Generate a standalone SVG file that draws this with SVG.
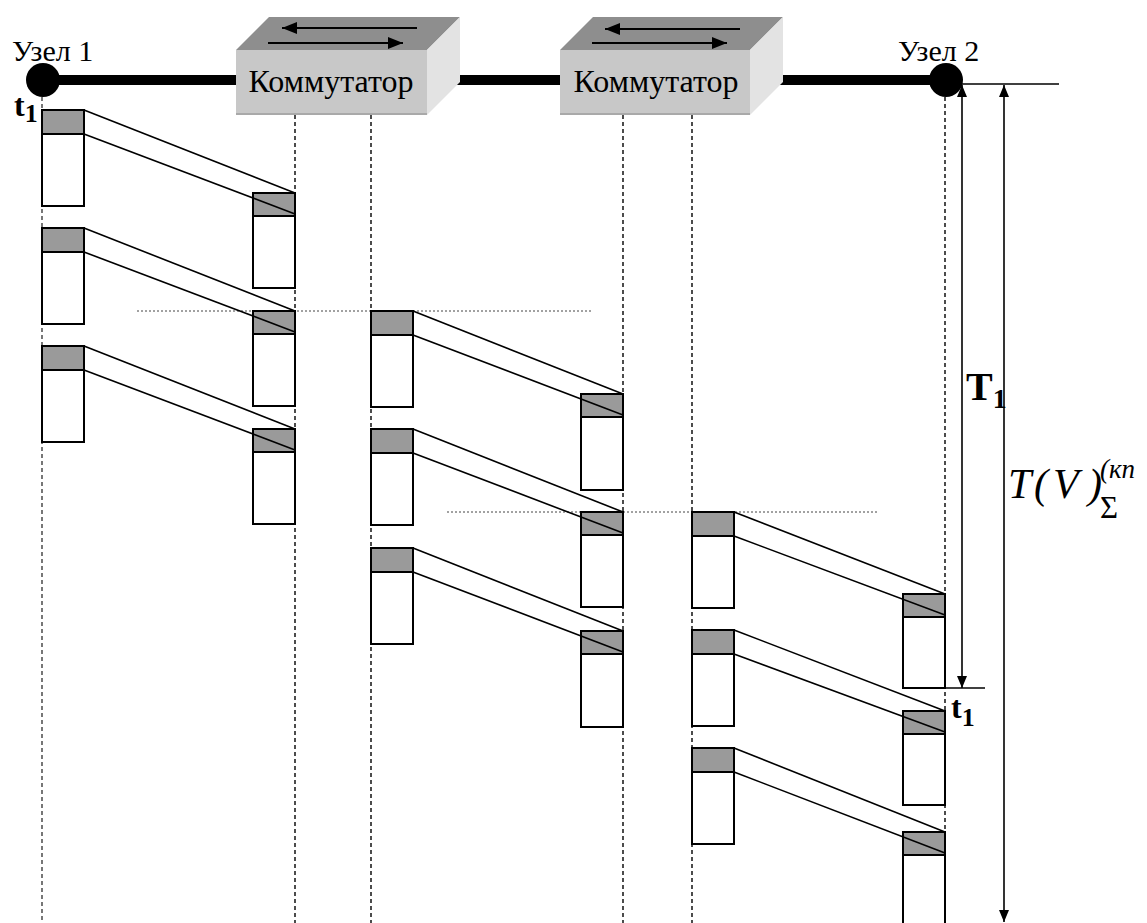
<svg xmlns="http://www.w3.org/2000/svg" width="1147" height="923" viewBox="0 0 1147 923">
  <style>
    .bg { fill: #ffffff; }
    .lane { stroke: #000; stroke-width: 1.4; stroke-dasharray: 4 3; fill: none; }
    .lane-grey { stroke: #555; stroke-width: 1.6; stroke-dasharray: 4 3; fill: none; }
    .sync { stroke: #444; stroke-width: 1; stroke-dasharray: 2 2; fill: none; }
    .link { stroke: #000; stroke-width: 10; }
    .node { fill: #000; }
    .top { fill: #8e8e8e; }
    .side { fill: #e3e3e3; }
    .front { fill: #c8c8c8; }
    .shade { stroke: #a9a9a9; stroke-width: 2; }
    .dir { stroke: #000; stroke-width: 2; marker-end: url(#headSmall); }
    .label { fill: #000; }
    .body { fill: #fff; stroke: #000; stroke-width: 2; }
    .head { fill: #9a9a9a; stroke: #000; stroke-width: 2; }
    .wire { stroke: #000; stroke-width: 1.6; fill: none; }
    .dim { stroke: #000; stroke-width: 1.6; fill: none; }
    .tick { stroke: #000; stroke-width: 1.6; }
  </style>
  <defs>
    <marker id="headSmall" markerWidth="16" markerHeight="12" refX="15" refY="6" orient="auto" markerUnits="userSpaceOnUse">
      <path d="M0,0 L15,6 L0,12 Z" fill="#000"/>
    </marker>
    <marker id="dimHead" markerWidth="12" markerHeight="12" refX="12" refY="5" orient="auto" markerUnits="userSpaceOnUse">
      <path d="M0,0 L12,5 L0,10 Z" fill="#000"/>
    </marker>
  </defs>

  <rect class="bg" x="0" y="0" width="1147" height="923"/>

  <!-- time lanes under nodes and switch ports -->
  <g id="lanes">
    <line class="lane-grey" x1="42" y1="97" x2="42" y2="923"/>
    <line class="lane" x1="295" y1="115" x2="295" y2="923"/>
    <line class="lane" x1="371" y1="115" x2="371" y2="923"/>
    <line class="lane" x1="623" y1="115" x2="623" y2="923"/>
    <line class="lane" x1="692" y1="115" x2="692" y2="923"/>
    <line class="lane" x1="945" y1="97" x2="945" y2="923"/>
    <line class="sync" x1="137" y1="311" x2="593" y2="311"/>
    <line class="sync" x1="447" y1="512" x2="878" y2="512"/>
  </g>

  <!-- physical links -->
  <g id="connectors">
    <line class="link" x1="43" y1="80" x2="240" y2="80"/>
    <line class="link" x1="455" y1="80" x2="565" y2="80"/>
    <line class="link" x1="780" y1="80" x2="946" y2="80"/>
  </g>

  <g font-family="'Liberation Serif', 'Times New Roman', serif">
  <g id="node1">
    <circle class="node" cx="43" cy="80" r="17"/>
    <text class="label" x="12" y="61" font-size="30">Узел 1</text>
  </g>

  <g id="node2">
    <circle class="node" cx="946" cy="80" r="17"/>
    <text class="label" x="898" y="61" font-size="30">Узел 2</text>
  </g>

  <g id="switch1">
    <polygon class="top" points="236,50 269,17 460,17 427,50"/>
    <polygon class="side" points="427,50 460,17 460,82 427,115"/>
    <rect class="front" x="236" y="50" width="191" height="65"/>
    <line class="shade" x1="236" y1="114" x2="427" y2="114"/>
    <line class="dir" x1="417" y1="28" x2="282" y2="28"/>
    <line class="dir" x1="268" y1="43" x2="403" y2="43"/>
    <text class="label" x="331" y="92" font-size="32" text-anchor="middle">Коммутатор</text>
  </g>

  <g id="switch2">
    <polygon class="top" points="560,50 593,17 783,17 750,50"/>
    <polygon class="side" points="750,50 783,17 783,82 750,115"/>
    <rect class="front" x="560" y="50" width="190" height="65"/>
    <line class="shade" x1="560" y1="114" x2="750" y2="114"/>
    <line class="dir" x1="740" y1="29" x2="605" y2="29"/>
    <line class="dir" x1="592" y1="43" x2="727" y2="43"/>
    <text class="label" x="656" y="92" font-size="32" text-anchor="middle">Коммутатор</text>
  </g>

  <!-- packets: grey header + white payload -->
  <g id="packets-node1">
    <rect class="body" x="42" y="110" width="42" height="96"/><rect class="head" x="42" y="110" width="42" height="24"/>
    <rect class="body" x="42" y="228" width="42" height="96"/><rect class="head" x="42" y="228" width="42" height="24"/>
    <rect class="body" x="42" y="346" width="42" height="96"/><rect class="head" x="42" y="346" width="42" height="24"/>
  </g>
  <g id="packets-switch1-in">
    <rect class="body" x="253" y="193" width="42" height="95"/><rect class="head" x="253" y="193" width="42" height="23"/>
    <rect class="body" x="253" y="311" width="42" height="95"/><rect class="head" x="253" y="311" width="42" height="23"/>
    <rect class="body" x="253" y="429" width="42" height="95"/><rect class="head" x="253" y="429" width="42" height="23"/>
  </g>
  <g id="packets-switch1-out">
    <rect class="body" x="371" y="311" width="42" height="96"/><rect class="head" x="371" y="311" width="42" height="24"/>
    <rect class="body" x="371" y="429" width="42" height="96"/><rect class="head" x="371" y="429" width="42" height="24"/>
    <rect class="body" x="371" y="548" width="42" height="96"/><rect class="head" x="371" y="548" width="42" height="24"/>
  </g>
  <g id="packets-switch2-in">
    <rect class="body" x="581" y="394" width="42" height="96"/><rect class="head" x="581" y="394" width="42" height="23"/>
    <rect class="body" x="581" y="512" width="42" height="95"/><rect class="head" x="581" y="512" width="42" height="23"/>
    <rect class="body" x="581" y="631" width="42" height="96"/><rect class="head" x="581" y="631" width="42" height="23"/>
  </g>
  <g id="packets-switch2-out">
    <rect class="body" x="692" y="512" width="42" height="96"/><rect class="head" x="692" y="512" width="42" height="24"/>
    <rect class="body" x="692" y="630" width="42" height="96"/><rect class="head" x="692" y="630" width="42" height="24"/>
    <rect class="body" x="692" y="748" width="42" height="96"/><rect class="head" x="692" y="748" width="42" height="24"/>
  </g>
  <g id="packets-node2">
    <rect class="body" x="903" y="594" width="42" height="94"/><rect class="head" x="903" y="594" width="42" height="23"/>
    <rect class="body" x="903" y="711" width="42" height="94"/><rect class="head" x="903" y="711" width="42" height="23"/>
    <rect class="body" x="903" y="832" width="42" height="96"/><rect class="head" x="903" y="832" width="42" height="23"/>
  </g>

  <!-- propagation of header and start of each packet -->
  <g id="propagation">
    <line class="wire" x1="84" y1="110" x2="295" y2="193"/><line class="wire" x1="84" y1="134" x2="295" y2="214"/>
    <line class="wire" x1="84" y1="228" x2="295" y2="311"/><line class="wire" x1="84" y1="252" x2="295" y2="332"/>
    <line class="wire" x1="84" y1="346" x2="295" y2="429"/><line class="wire" x1="84" y1="370" x2="295" y2="450"/>
    <line class="wire" x1="413" y1="311" x2="623" y2="394"/><line class="wire" x1="413" y1="335" x2="623" y2="415"/>
    <line class="wire" x1="413" y1="429" x2="623" y2="512"/><line class="wire" x1="413" y1="453" x2="623" y2="533"/>
    <line class="wire" x1="413" y1="548" x2="623" y2="631"/><line class="wire" x1="413" y1="572" x2="623" y2="652"/>
    <line class="wire" x1="734" y1="512" x2="945" y2="594"/><line class="wire" x1="734" y1="536" x2="945" y2="615"/>
    <line class="wire" x1="734" y1="630" x2="945" y2="711"/><line class="wire" x1="734" y1="654" x2="945" y2="732"/>
    <line class="wire" x1="734" y1="748" x2="945" y2="832"/><line class="wire" x1="734" y1="772" x2="945" y2="853"/>
  </g>

  <!-- delay dimensions -->
  <g id="dimensions">
    <line class="tick" x1="946" y1="84" x2="1059" y2="84"/>
    <line class="tick" x1="945" y1="688" x2="985" y2="688"/>
    <line class="dim" x1="962" y1="380" x2="962" y2="85" marker-end="url(#dimHead)"/>
    <line class="dim" x1="962" y1="380" x2="962" y2="688" marker-end="url(#dimHead)"/>
    <line class="dim" x1="1004" y1="480" x2="1004" y2="85" marker-end="url(#dimHead)"/>
    <line class="dim" x1="1004" y1="480" x2="1004" y2="922" marker-end="url(#dimHead)"/>
  </g>

  <g id="labels">
    <text class="label" x="14" y="116" font-size="32" font-weight="bold">t<tspan font-size="26" dy="6">1</tspan></text>
    <text class="label" x="951" y="718" font-size="32" font-weight="bold">t<tspan font-size="26" dy="8">1</tspan></text>
    <text class="label" x="966" y="400" font-size="40" font-weight="bold">T<tspan font-size="28" dy="8">1</tspan></text>
    <text class="label" x="1008" y="498" font-size="42" font-style="italic">T<tspan x="1034">(</tspan><tspan x="1053">V</tspan><tspan x="1088">)</tspan></text>
    <text class="label" x="1100" y="518" font-size="31">Σ</text>
    <text class="label" x="1100" y="478" font-size="27" font-style="italic">(кп</text>
  </g>
  </g>
</svg>
